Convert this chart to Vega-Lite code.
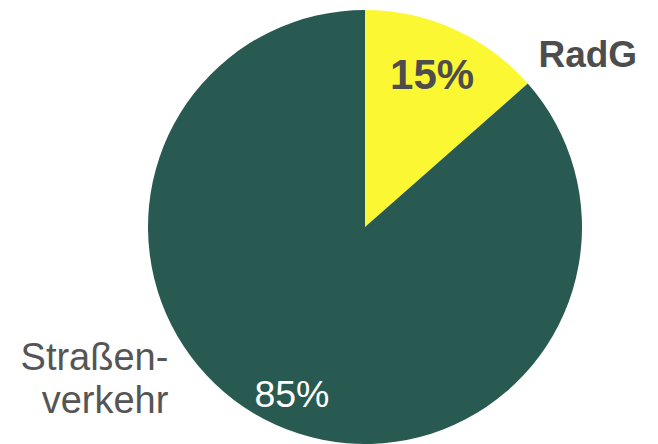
{
  "$schema": "https://vega.github.io/schema/vega-lite/v6.json",
  "width": 586,
  "height": 434,
  "padding": {"left": 72, "top": 10, "right": 0, "bottom": 0},
  "autosize": {"type": "none"},
  "background": "white",
  "config": {"view": {"stroke": null}, "text": {"font": "Liberation Sans"}},
  "data": {"values": [
    {"category": "RadG", "value": 13.5, "pct": "15%", "name": "RadG"},
    {"category": "Straßenverkehr", "value": 86.5, "pct": "85%", "name": ["Straßen-", "verkehr"]}
  ]},
  "encoding": {
    "theta": {"field": "value", "type": "quantitative", "stack": true},
    "order": {"field": "category", "type": "nominal"}
  },
  "layer": [
    {
      "mark": {"type": "arc", "outerRadius": 217},
      "encoding": {
        "color": {"field": "category", "type": "nominal", "legend": null,
          "scale": {"domain": ["RadG", "Straßenverkehr"], "range": ["#FCF733", "#285A52"]}}
      }
    },
    {
      "mark": {"type": "text", "radius": 151, "dx": 5, "baseline": "alphabetic", "align": "center", "fontSize": 42, "fontWeight": "bold", "color": "#4D4D4D"},
      "encoding": {
        "detail": {"field": "category"},
        "text": {"condition": {"test": "datum.category === 'RadG'", "field": "pct"}, "value": ""}
      }
    },
    {
      "mark": {"type": "text", "radius": 197, "dx": 8, "baseline": "alphabetic", "align": "center", "fontSize": 37.5, "color": "#FFFFFF"},
      "encoding": {
        "detail": {"field": "category"},
        "text": {"condition": {"test": "datum.category === 'Straßenverkehr'", "field": "pct"}, "value": ""}
      }
    },
    {
      "mark": {"type": "text", "radius": 176, "dx": 101, "baseline": "alphabetic", "align": "left", "fontSize": 37, "fontWeight": "bold", "color": "#4D4D4D"},
      "encoding": {
        "detail": {"field": "category"},
        "text": {"condition": {"test": "datum.category === 'RadG'", "field": "name"}, "value": ""}
      }
    },
    {
      "mark": {"type": "text", "radius": 157, "dx": -132, "baseline": "alphabetic", "align": "right", "fontSize": 38, "lineHeight": 43, "color": "#555555"},
      "encoding": {
        "detail": {"field": "category"},
        "text": {"condition": {"test": "datum.category === 'Straßenverkehr'", "field": "name"}, "value": ""}
      }
    }
  ]
}
